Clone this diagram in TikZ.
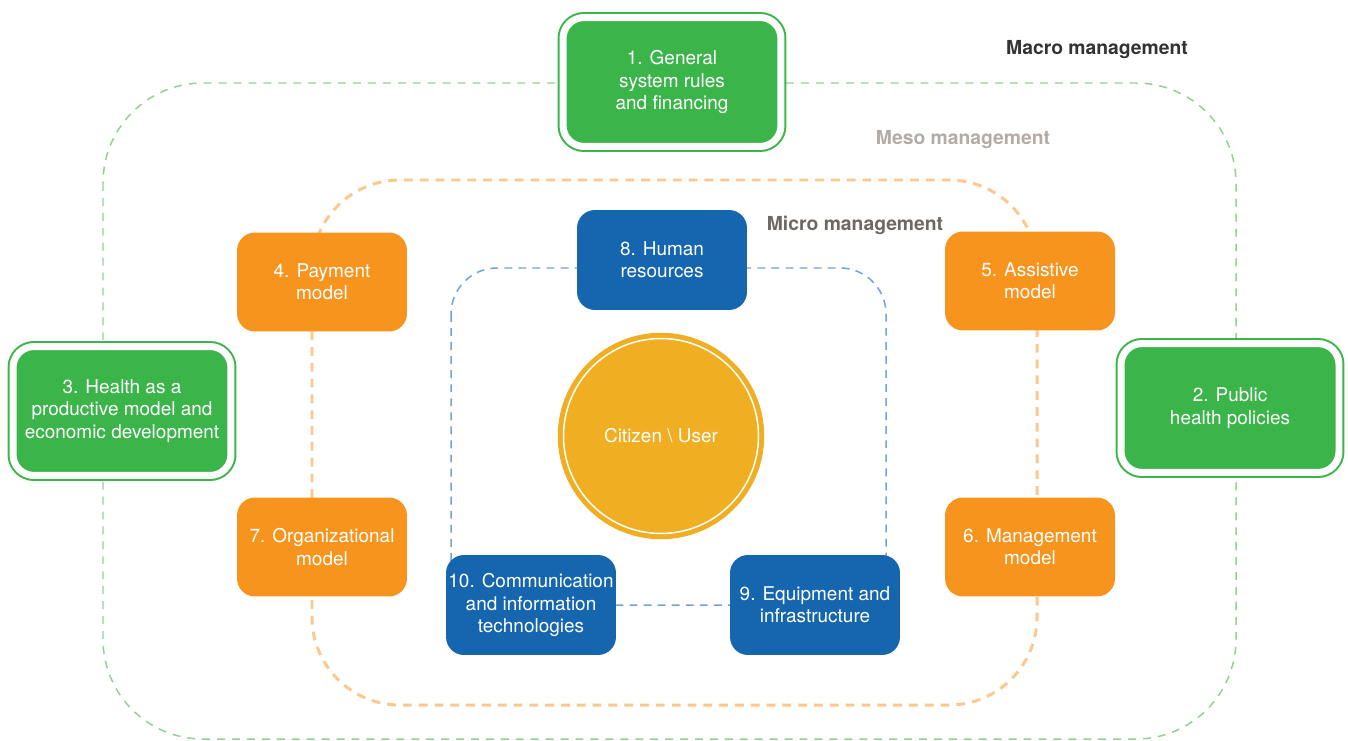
\documentclass[tikz,border=0pt]{standalone}
\usepackage{fontspec}
\setmainfont{TeX Gyre Heros}

\definecolor{levgreen}{HTML}{3BB54A}
\definecolor{levorange}{HTML}{F7941E}
\definecolor{levblue}{HTML}{1565AF}
\definecolor{citizen}{HTML}{F0AE22}
\definecolor{macroline}{HTML}{92D18E}
\definecolor{mesoline}{HTML}{FDC78E}
\definecolor{microline}{HTML}{72A1D8}
\definecolor{macrotext}{HTML}{333333}
\definecolor{mesotext}{HTML}{B3ABA6}
\definecolor{microtext}{HTML}{6F6862}

\tikzset{
  boxtext/.style={text=white, align=center, inner sep=0pt,
    font=\fontsize{10.8}{12.7}\selectfont},
  macrobox/.style={boxtext, rectangle, rounded corners=0.42cm,
    fill=levgreen, draw=levgreen, double=white, double distance=0.14cm,
    line width=0.04cm, minimum width=4.36cm, minimum height=2.58cm},
  mesobox/.style={boxtext, rectangle, rounded corners=0.36cm,
    fill=levorange, minimum width=3.4cm, minimum height=1.98cm},
  microbox/.style={boxtext, rectangle, rounded corners=0.36cm,
    fill=levblue, minimum width=3.4cm, minimum height=2cm},
  userdisc/.style={boxtext, circle, fill=citizen, draw=citizen,
    double=white, double distance=0.03cm, line width=0.1cm,
    minimum size=3.9cm},
  levellabel/.style={font=\fontsize{11}{13}\selectfont\bfseries}
}

\begin{document}
\begin{tikzpicture}[x=0.02cm, y=-0.02cm]
  \useasboundingbox (0,0) rectangle (1348,740);

  % management levels
  \draw[macroline, line width=0.85pt, dash pattern=on 4.5pt off 4pt,
    rounded corners=2cm] (103,83) rectangle (1236,739);
  \draw[mesoline, line width=1.7pt, dash pattern=on 5pt off 4pt,
    rounded corners=1.76cm] (312,180) rectangle (1037,705);
  \draw[microline, line width=0.85pt, dash pattern=on 4.5pt off 3.5pt,
    rounded corners=0.92cm] (451,268) rectangle (886,605);

  \draw
    (1097,50) node[levellabel, text=macrotext] (macro) {Macro management}
    (963,140) node[levellabel, text=mesotext] (meso) {Meso management}
    (855,225) node[levellabel, text=microtext] (micro) {Micro management};

  % macro
  \draw
    (672,82) node[macrobox] (1) {1. General\\system rules\\and financing}
    (1230,408) node[macrobox] (2) {2. Public\\health policies}
    (122,411) node[macrobox] (3) {3. Health as a\\productive model and\\economic development};

  % meso
  \draw
    (322,282) node[mesobox] (4) {4. Payment\\model}
    (1030,281) node[mesobox] (5) {5. Assistive\\model}
    (1030,547) node[mesobox] (6) {6. Management\\model}
    (322,547) node[mesobox] (7) {7. Organizational\\model};

  % micro
  \draw
    (662,260) node[microbox] (8) {8. Human\\resources}
    (815,605) node[microbox] (9) {9. Equipment and\\infrastructure}
    (531,605) node[microbox] (10) {10. Communication\\and information\\technologies};

  \draw (661,436) node[userdisc] (user) {Citizen \textbackslash\ User};
\end{tikzpicture}
\end{document}
